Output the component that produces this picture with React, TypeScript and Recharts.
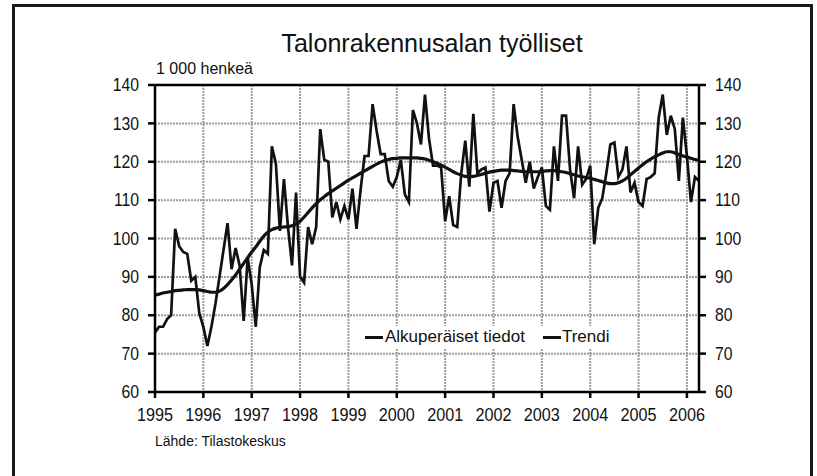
import { LineChart, Line, XAxis, YAxis, CartesianGrid, ReferenceLine } from "recharts";

// monthly, Jan 1995 .. Apr 2006 (index 0 = Jan 1995)
const years = ["1995", "1996", "1997", "1998", "1999", "2000", "2001", "2002", "2003", "2004", "2005", "2006"];
const yTicks = [60, 70, 80, 90, 100, 110, 120, 130, 140];

const original = [
  75.5, 77, 77, 79, 80, 102.5, 98, 96.5, 96, 89, 90, 80.5,
  77, 72, 77, 83, 90, 97, 104, 92, 97.5, 93, 78.5, 95,
  88, 77, 92.5, 97, 96, 124, 119.5, 102, 115.5, 103, 93, 112,
  90, 88.5, 103, 98.5, 103, 128.5, 120.5, 120, 105.5, 109.5, 105, 108.5,
  105, 113, 102.5, 112.5, 121.5, 121.5, 135, 128, 122, 122, 115, 113.5,
  116, 120.5, 111.5, 109.5, 133.5, 130, 124.5, 137.5, 126, 119, 119, 118.5,
  104.5, 111, 103.5, 103, 117, 125.5, 113.5, 132.5, 117, 118, 118.5, 107,
  114.5, 115, 108, 115, 117, 135, 126.5, 120.5, 114.5, 120, 113, 116,
  118.5, 108.5, 107.5, 124, 115, 132, 132, 118, 110.5, 124, 114, 115.5,
  119, 98.5, 108, 110.5, 117, 124.5, 125, 116, 118, 124, 112, 114.5,
  109.5, 108.5, 115.5, 116, 117, 131.5, 137.5, 127, 132, 128.5, 115, 131.5,
  121.5, 109.5, 116, 115,
];

const trend = [
  85.2, 85.5, 85.8, 86.0, 86.2, 86.4, 86.5, 86.6, 86.7, 86.7, 86.7, 86.6,
  86.4, 86.2, 86.0, 86.0, 86.3, 87.0, 88.0, 89.2, 90.5, 92.0, 93.5, 95.0,
  96.5, 97.8, 99.3, 100.6, 101.6, 102.3, 102.7, 102.9, 103.0, 103.1, 103.3, 103.8,
  104.5, 105.6, 106.8, 108.0, 109.1, 110.1, 110.9, 111.7, 112.4, 113.1, 113.8, 114.5,
  115.2, 115.8, 116.4, 117.0, 117.6, 118.2, 118.8, 119.4, 119.9, 120.3, 120.6, 120.8,
  120.9, 121.0, 121.0, 121.0, 121.0, 121.0, 120.9, 120.7, 120.4, 120.0, 119.6, 119.1,
  118.6, 118.0, 117.4, 116.9, 116.5, 116.2, 116.1, 116.2, 116.4, 116.7, 117.0, 117.3,
  117.5, 117.7, 117.8, 117.8, 117.8, 117.7, 117.6, 117.5, 117.4, 117.4, 117.4, 117.4,
  117.5, 117.6, 117.7, 117.7, 117.6, 117.4, 117.2, 116.9, 116.6, 116.3, 116.1, 115.9,
  115.7, 115.4, 115.1, 114.8, 114.5, 114.3, 114.3, 114.5, 115.0, 115.7, 116.6, 117.5,
  118.4, 119.2, 120.0, 120.7, 121.3, 121.8, 122.3, 122.6, 122.6, 122.3, 121.9, 121.5,
  121.2, 120.9, 120.6, 120.4,
];

const data = original.map((v, i) => ({ m: i, original: v, trend: trend[i] }));
const xTicks = years.map((_, i) => i * 12);

const font = "'Liberation Sans', Arial, sans-serif";

// narrow-ish tick text, like the Arial Narrow of the original
// eslint-disable-next-line @typescript-eslint/no-explicit-any
function NarrowTick(props: any) {
  const { x, y, payload, textAnchor, dy, fs, label } = props;
  const text = label ? label(payload.value) : payload.value;
  return (
    <text
      transform={`translate(${x},${y}) scale(0.9,1)`}
      textAnchor={textAnchor}
      dy={dy}
      fontSize={fs}
      fontFamily={font}
      fill="#111"
    >
      {text}
    </text>
  );
}

const axisLine = { stroke: "#000", strokeWidth: 2.5 };
const tickLine = { stroke: "#000", strokeWidth: 2.5 };

export default function App() {
  return (
    <div style={{ position: "absolute", left: 0, top: 0, width: 817, height: 476, fontFamily: font, color: "#111" }}>
      <div
        style={{
          position: "absolute",
          left: 12,
          top: 4,
          width: 795,
          height: 469,
          borderTop: "3px solid #1a1a1a",
          borderLeft: "3px solid #1a1a1a",
          borderRight: "3px solid #1a1a1a",
        }}
      />
      <div
        style={{
          position: "absolute",
          left: 432,
          top: 30,
          fontSize: 26,
          lineHeight: 1,
          whiteSpace: "nowrap",
          transform: "translateX(-50%) scaleX(0.965)",
        }}
      >
        Talonrakennusalan työlliset
      </div>
      <div style={{ position: "absolute", left: 156, top: 61, fontSize: 16, lineHeight: 1 }}>1 000 henkeä</div>

      <div style={{ position: "absolute", left: 0, top: 0 }}>
        <LineChart width={817} height={476} data={data} margin={{ top: 85, right: 73, bottom: 54, left: 110 }}>
          <CartesianGrid yAxisId="left" stroke="#9d9d9d" strokeDasharray="2 1" strokeWidth={2} />
          <XAxis
            dataKey="m"
            type="number"
            domain={[0, 135]}
            ticks={xTicks}
            interval={0}
            height={30}
            tickSize={6}
            tickMargin={10}
            axisLine={axisLine}
            tickLine={tickLine}
            tick={(p: any) => <NarrowTick {...p} dy="0.71em" fs={18} label={(v: number) => years[v / 12]} />}
          />
          <YAxis
            yAxisId="left"
            domain={[60, 140]}
            ticks={yTicks}
            allowDataOverflow
            width={45}
            tickSize={7}
            tickMargin={9}
            axisLine={axisLine}
            tickLine={tickLine}
            tick={(p: any) => <NarrowTick {...p} dy="0.355em" fs={17.5} />}
          />
          <YAxis
            yAxisId="right"
            orientation="right"
            domain={[60, 140]}
            ticks={yTicks}
            allowDataOverflow
            width={45}
            tickSize={7}
            tickMargin={9}
            axisLine={axisLine}
            tickLine={tickLine}
            tick={(p: any) => <NarrowTick {...p} dy="0.355em" fs={17.5} />}
          />
          <ReferenceLine yAxisId="left" y={140} stroke="#000" strokeWidth={2.5} />
          <Line
            yAxisId="left"
            dataKey="original"
            type="linear"
            stroke="#111"
            strokeWidth={2.7}
            dot={false}
            isAnimationActive={false}
          />
          <Line
            yAxisId="right"
            dataKey="trend"
            type="monotone"
            stroke="#111"
            strokeWidth={3.2}
            dot={false}
            isAnimationActive={false}
          />
        </LineChart>
      </div>

      <div
        style={{
          position: "absolute",
          left: 359,
          top: 326,
          height: 22,
          fontSize: 17,
          display: "flex",
          alignItems: "center",
          whiteSpace: "nowrap",
          background: "#fff",
          padding: "0 6px",
        }}
      >
        <span style={{ display: "inline-block", width: 18, height: 3, background: "#111", marginRight: 2 }} />
        <span>Alkuperäiset tiedot</span>
        <span style={{ display: "inline-block", width: 18, height: 3, background: "#111", margin: "0 1px 0 18px" }} />
        <span>Trendi</span>
      </div>

      <div style={{ position: "absolute", left: 155, top: 434, fontSize: 14, lineHeight: 1 }}>Lähde: Tilastokeskus</div>
    </div>
  );
}
